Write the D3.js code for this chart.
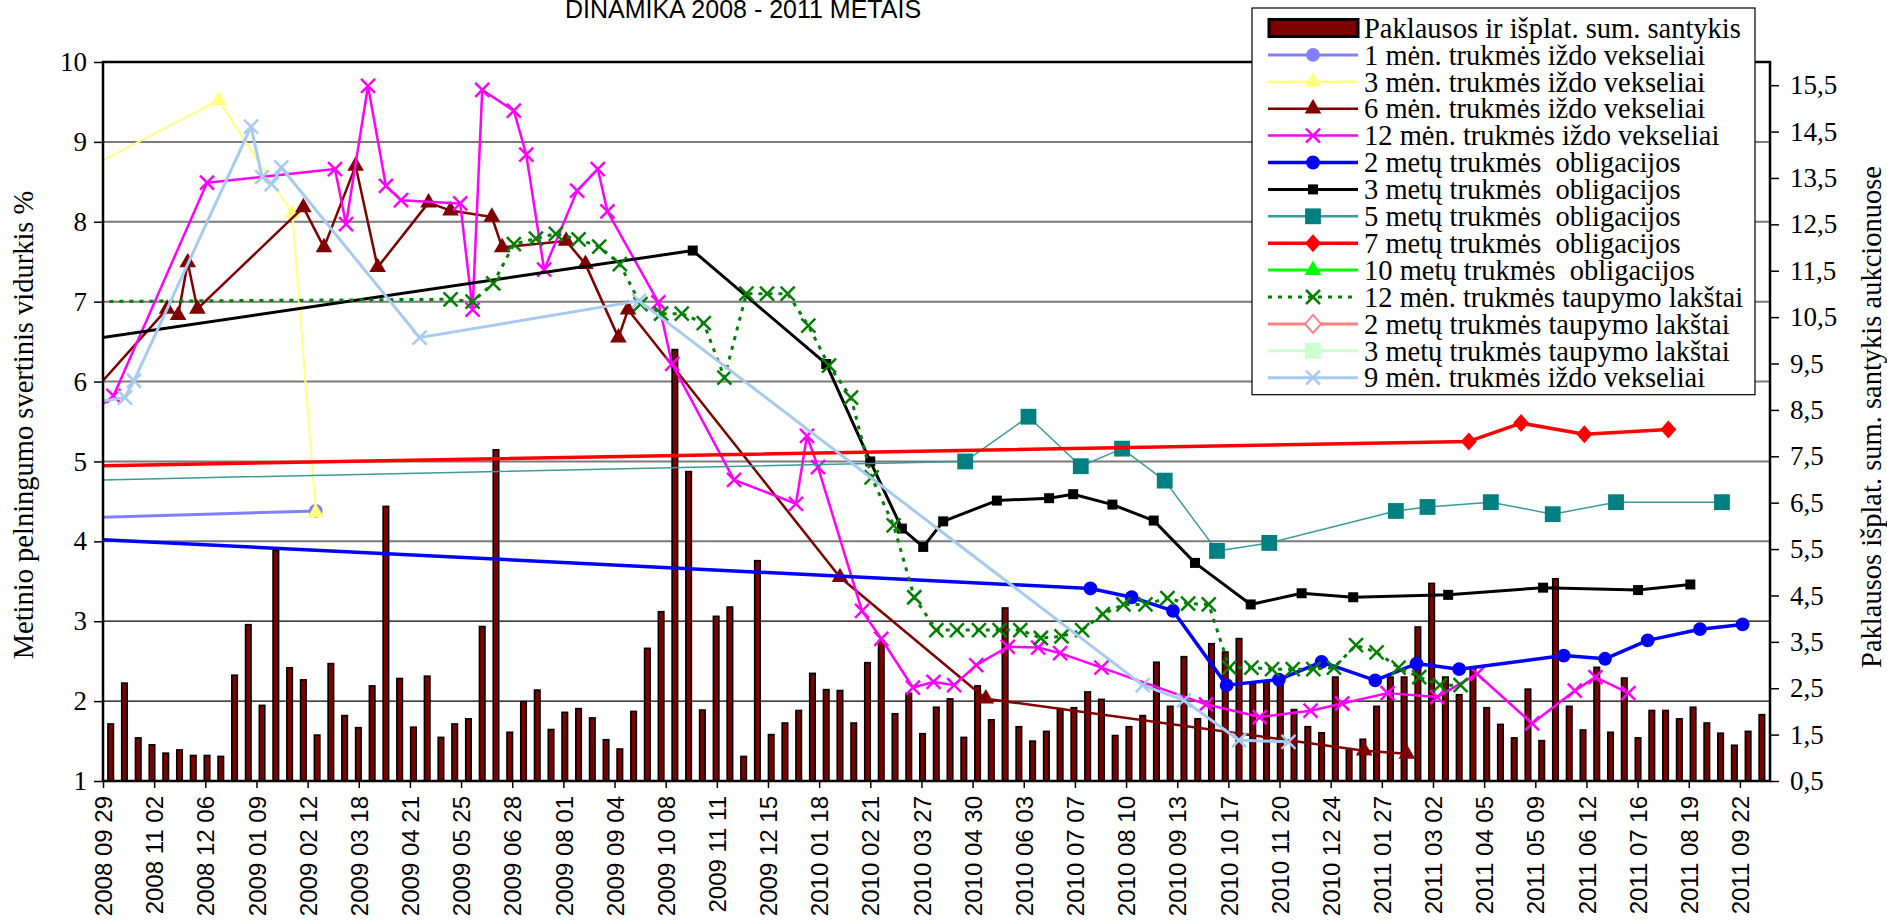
<!DOCTYPE html>
<html>
<head>
<meta charset="utf-8">
<script src="https://cdn.jsdelivr.net/npm/d3@7"></script>
<style>
  body { margin: 0; background: #fff; }
  svg { display: block; }
  text { white-space: pre; }
</style>
</head>
<body>
<svg id="chart" width="1887" height="923"></svg>
<script>
// Paklausos ir išplatintos sumos santykis, one bar per auction (right axis)
const ratio = [
  1.73, 2.61, 1.43, 1.28, 1.10, 1.17, 1.05, 1.05, 1.03, 2.78,
  3.87, 2.13, 5.47, 2.94, 2.68, 1.49, 3.03, 1.91, 1.65, 2.55,
  6.42, 2.71, 1.66, 2.76, 1.44, 1.73, 1.84, 3.83, 7.64, 1.55,
  2.21, 2.46, 1.61, 1.98, 2.06, 1.86, 1.39, 1.19, 2.00, 3.36,
  4.15, 9.80, 7.17, 2.03, 4.05, 4.25, 1.03, 5.25, 1.50, 1.75,
  2.02, 2.82, 2.47, 2.45, 1.75, 3.05, 3.53, 1.95, 2.39, 1.52,
  2.09, 2.27, 1.44, 2.55, 1.82, 4.23, 1.67, 1.36, 1.57, 2.06,
  2.08, 2.42, 2.26, 1.48, 1.67, 1.91, 3.06, 2.11, 3.18, 1.84,
  3.46, 3.28, 3.57, 2.60, 2.63, 2.60, 2.04, 1.67, 1.54, 2.74,
  1.19, 1.40, 2.11, 2.74, 2.74, 3.82, 4.76, 2.74, 2.36, 2.95,
  2.08, 1.72, 1.43, 2.48, 1.37, 4.86, 2.11, 1.60, 2.95, 1.55,
  2.72, 1.43, 2.02, 2.02, 1.84, 2.09, 1.75, 1.53, 1.27, 1.57,
  1.93
];

// yield series: [auction slot, weighted average yield %]; slots < 0 lie before the axis start
const bill1m  = [[-3, 4.29], [14.9, 4.38]];
const bill3m  = [[-3, 8.55], [7.85, 9.52], [13.2, 8.10], [14.9, 4.36]];
const bill6m  = [[-3, 5.54], [4.1, 6.91], [4.9, 6.83], [5.6, 7.49], [6.3, 6.91], [14.0, 8.18],
  [15.5, 7.68], [17.8, 8.70], [19.4, 7.43], [23.1, 8.24], [24.7, 8.14], [27.7, 8.06],
  [28.45, 7.68], [33.1, 7.76], [34.5, 7.47], [36.9, 6.55], [37.6, 6.90], [53.0, 3.55],
  [63.6, 2.03], [91.1, 1.38], [94.2, 1.34]];
const bill12m = [[-1.5, 5.6], [0.2, 5.82], [7, 8.49], [16.3, 8.66], [17.1, 7.97], [18.7, 9.70],
  [20, 8.45], [21.1, 8.27], [25.4, 8.23], [26.3, 6.9], [27, 9.65], [29.3, 9.39], [30.2, 8.84],
  [31.5, 7.40], [33.9, 8.39], [35.4, 8.66], [36.1, 8.13], [39.8, 6.99], [40.8, 6.22],
  [45.3, 4.77], [49.8, 4.47], [50.6, 5.32], [51.4, 4.93], [54.6, 3.13], [56, 2.78],
  [58.3, 2.17], [59.8, 2.24], [61.3, 2.20], [62.9, 2.45], [65.2, 2.68], [67.4, 2.67],
  [69, 2.60], [72, 2.42], [79.6, 1.96], [83.5, 1.80], [87.2, 1.88], [89.5, 1.97],
  [92.8, 2.10], [96.4, 2.05], [99.3, 2.34], [103.3, 1.72], [106.4, 2.13], [107.9, 2.30],
  [110.3, 2.10]];
const bond2y  = [[-3, 4.04], [71.2, 3.41], [74.2, 3.30], [77.2, 3.13], [81.1, 2.20], [84.9, 2.27],
  [88.0, 2.49], [91.9, 2.26], [94.9, 2.47], [98.0, 2.40], [105.6, 2.57], [108.6, 2.53],
  [111.7, 2.76], [115.5, 2.90], [118.6, 2.96]];
const bond3y  = [[-3, 6.49], [42.3, 7.64], [52.0, 6.22], [55.2, 5.00], [57.5, 4.16], [59.05, 3.93],
  [60.5, 4.25], [64.4, 4.51], [68.2, 4.54], [69.95, 4.59], [72.8, 4.46], [75.8, 4.26],
  [78.8, 3.73], [82.85, 3.21], [86.55, 3.35], [90.3, 3.30], [97.2, 3.33], [104.1, 3.42],
  [111.0, 3.39], [114.8, 3.46]];
const bond5y  = [[-3, 4.76], [62.1, 5.00], [66.7, 5.56], [70.5, 4.94], [73.5, 5.16], [76.6, 4.76],
  [80.4, 3.88], [84.2, 3.98], [93.4, 4.38], [95.7, 4.43], [100.3, 4.49], [104.8, 4.34],
  [109.4, 4.49], [117.1, 4.49]];
const bond7y  = [[-3, 4.94], [98.7, 5.25], [102.5, 5.48], [107.1, 5.34], [113.2, 5.40]];
const bond10y = [];
const sav12m  = [[-3, 7.0], [24.7, 7.03], [26.3, 7.0], [27.8, 7.23], [29.3, 7.72], [30.9, 7.79],
  [32.35, 7.85], [34.0, 7.78], [35.5, 7.69], [37.0, 7.47], [38.5, 6.97], [40.0, 6.85],
  [41.5, 6.85], [43.1, 6.73], [44.6, 6.05], [46.2, 7.10], [47.7, 7.10], [49.2, 7.10],
  [50.7, 6.70], [52.2, 6.20], [53.8, 5.80], [55.3, 4.80], [56.9, 4.20], [58.4, 3.30],
  [60.0, 2.89], [61.5, 2.89], [63.1, 2.89], [64.6, 2.89], [66.1, 2.89], [67.6, 2.79],
  [69.1, 2.81], [70.6, 2.89], [72.1, 3.09], [73.6, 3.21], [75.2, 3.21], [76.8, 3.29],
  [78.3, 3.22], [79.8, 3.21], [81.3, 2.42], [82.9, 2.42], [84.4, 2.40], [85.9, 2.40],
  [87.4, 2.40], [88.9, 2.42], [90.5, 2.70], [92.0, 2.61], [93.6, 2.42], [95.1, 2.30],
  [96.6, 2.20], [98.1, 2.20]];
const sav2y   = [];
const sav3y   = [];
const bill9m  = [[-2, 5.72], [1.04, 5.80], [1.69, 6.01], [10.2, 9.19], [11.0, 8.56], [11.7, 8.47],
  [12.4, 8.68], [22.45, 6.55], [38.4, 7.01], [75.0, 2.20], [78.0, 2.01], [82.0, 1.51],
  [85.6, 1.49]];

const tickLabels = [
  '2008 09 29', '2008 11 02', '2008 12 06', '2009 01 09', '2009 02 12', '2009 03 18',
  '2009 04 21', '2009 05 25', '2009 06 28', '2009 08 01', '2009 09 04', '2009 10 08',
  '2009 11 11', '2009 12 15', '2010 01 18', '2010 02 21', '2010 03 27', '2010 04 30',
  '2010 06 03', '2010 07 07', '2010 08 10', '2010 09 13', '2010 10 17', '2010 11 20',
  '2010 12 24', '2011 01 27', '2011 03 02', '2011 04 05', '2011 05 09', '2011 06 12',
  '2011 07 16', '2011 08 19', '2011 09 22'
];
const leftTicks = [1, 2, 3, 4, 5, 6, 7, 8, 9, 10];
const rightTicks = [0.5, 1.5, 2.5, 3.5, 4.5, 5.5, 6.5, 7.5, 8.5, 9.5, 10.5, 11.5, 12.5, 13.5, 14.5, 15.5];

// series styling, legend order
const series = [
  { name: '1 mėn. trukmės iždo vekseliai', data: bill1m, color: '#8080FF', width: 3, marker: 'circle' },
  { name: '3 mėn. trukmės iždo vekseliai', data: bill3m, color: '#FFFF80', width: 2, marker: 'triangle' },
  { name: '6 mėn. trukmės iždo vekseliai', data: bill6m, color: '#800000', width: 2.5, marker: 'triangle' },
  { name: '12 mėn. trukmės iždo vekseliai', data: bill12m, color: '#FF00FF', width: 2.5, marker: 'x' },
  { name: '2 metų trukmės  obligacijos', data: bond2y, color: '#0000FF', width: 3.5, marker: 'circle' },
  { name: '3 metų trukmės  obligacijos', data: bond3y, color: '#000000', width: 3, marker: 'smallsquare' },
  { name: '5 metų trukmės  obligacijos', data: bond5y, color: '#008080', lineColor: '#3a9a9a', width: 1.5, marker: 'square' },
  { name: '7 metų trukmės  obligacijos', data: bond7y, color: '#FF0000', width: 3.5, marker: 'diamond' },
  { name: '10 metų trukmės  obligacijos', data: bond10y, color: '#00FF00', width: 3, marker: 'triangle' },
  { name: '12 mėn. trukmės taupymo lakštai', data: sav12m, color: '#008000', width: 3, marker: 'x', dash: '4,6' },
  { name: '2 metų trukmės taupymo lakštai', data: sav2y, color: '#FF8080', width: 3, marker: 'hollowdiamond' },
  { name: '3 metų trukmės taupymo lakštai', data: sav3y, color: '#CCFFCC', width: 3, marker: 'square' },
  { name: '9 mėn. trukmės iždo vekseliai', data: bill9m, color: '#A6CAF0', width: 3, marker: 'x' }
];

const plot = { left: 103, right: 1770, top: 62, bottom: 781 };
const serif = '"Liberation Serif", "Times New Roman", serif';
const sans = '"Liberation Sans", Arial, sans-serif';

const svg = d3.select('#chart');
const parseLabel = d3.timeParse('%Y %m %d');
const tickDates = tickLabels.map(parseLabel);

const xSlot = d3.scaleLinear().domain([-0.56, 120.59]).range([plot.left, plot.right]);
const xTime = d3.scaleTime().domain([tickDates[0], new Date(2011, 9, 12)]).range([plot.left, plot.right]);
const yL = d3.scaleLinear().domain([1, 10]).range([plot.bottom, plot.top]);
const yR = d3.scaleLinear().domain([0.5, 16]).range([plot.bottom, plot.top]);

svg.append('defs').append('clipPath').attr('id', 'plotClip')
  .append('rect').attr('x', plot.left).attr('y', plot.top)
  .attr('width', plot.right - plot.left).attr('height', plot.bottom - plot.top);

// gridlines
svg.append('g').selectAll('line').data(leftTicks.filter(v => v > 1 && v < 10)).join('line')
  .attr('x1', plot.left).attr('x2', plot.right)
  .attr('y1', d => yL(d)).attr('y2', d => yL(d))
  .attr('stroke', d => d >= 4 ? '#7a7a7a' : '#000')
  .attr('stroke-width', d => d >= 4 ? 2 : 1.2);

// bars
svg.append('g').selectAll('rect').data(ratio).join('rect')
  .attr('x', (d, i) => xSlot(i) - 2.75).attr('width', 5.5)
  .attr('y', d => yR(d)).attr('height', d => yR(0.5) - yR(d))
  .attr('fill', '#800000').attr('stroke', '#000').attr('stroke-width', 1.6);

function markerPath(type) {
  switch (type) {
    case 'circle': return d3.symbol(d3.symbolCircle, 150)();
    case 'triangle': return d3.symbol(d3.symbolTriangle, 120)();
    case 'smallsquare': return d3.symbol(d3.symbolSquare, 100)();
    case 'square': return d3.symbol(d3.symbolSquare, 250)();
    case 'diamond':
    case 'hollowdiamond': return 'M0,-9L8,0L0,9L-8,0Z';
    case 'x': return 'M-7,-7L7,7M-7,7L7,-7';
  }
}

function drawMarker(g, s) {
  const p = g.append('path').attr('d', markerPath(s.marker));
  if (s.marker === 'x') {
    p.attr('fill', 'none').attr('stroke', s.color).attr('stroke-width', 2.5);
  } else if (s.marker === 'hollowdiamond') {
    p.attr('fill', '#fff').attr('stroke', s.color).attr('stroke-width', 2);
  } else {
    p.attr('fill', s.color);
  }
  return p;
}

const line = d3.line().x(d => xSlot(d[0])).y(d => yL(d[1]));
const lines = svg.append('g').attr('clip-path', 'url(#plotClip)');
series.forEach(s => {
  if (!s.data.length) return;
  lines.append('path').datum(s.data).attr('d', line)
    .attr('fill', 'none').attr('stroke', s.lineColor || s.color)
    .attr('stroke-width', s.width).attr('stroke-dasharray', s.dash || null)
    .attr('stroke-linejoin', 'round');
  s.data.forEach(d => {
    const g = lines.append('g').attr('transform', `translate(${xSlot(d[0])},${yL(d[1])})`);
    drawMarker(g, s);
  });
});

// frame
svg.append('rect').attr('x', plot.left).attr('y', plot.top)
  .attr('width', plot.right - plot.left).attr('height', plot.bottom - plot.top)
  .attr('fill', 'none').attr('stroke', '#000').attr('stroke-width', 2.5);

// axes
const leftAxis = svg.append('g').attr('transform', `translate(${plot.left},0)`)
  .call(d3.axisLeft(yL).tickValues(leftTicks).tickFormat(d3.format('d')).tickSize(9).tickPadding(7));
const rightAxis = svg.append('g').attr('transform', `translate(${plot.right},0)`)
  .call(d3.axisRight(yR).tickValues(rightTicks).tickFormat(d => d.toFixed(1).replace('.', ',')).tickSize(9).tickPadding(11));
[leftAxis, rightAxis].forEach(a => {
  a.select('.domain').remove();
  a.selectAll('line').attr('stroke', '#000').attr('stroke-width', 1.5);
  a.selectAll('text').attr('font-family', serif).attr('font-size', 27).attr('fill', '#000');
});

const xAxis = svg.append('g').attr('transform', `translate(0,${plot.bottom})`)
  .call(d3.axisBottom(xTime).tickValues(tickDates).tickFormat(d3.timeFormat('%Y %m %d')).tickSize(7));
xAxis.select('.domain').remove();
xAxis.selectAll('line').attr('stroke', '#000').attr('stroke-width', 1.5);
xAxis.selectAll('text')
  .attr('font-family', sans).attr('font-size', 24).attr('fill', '#000')
  .attr('transform', 'rotate(-90)').attr('x', -15).attr('y', 0).attr('dy', '0.36em')
  .style('text-anchor', 'end');

// titles
svg.append('text').attr('x', 743).attr('y', 18).attr('text-anchor', 'middle')
  .attr('font-family', sans).attr('font-size', 25).text('DINAMIKA 2008 - 2011 METAIS');
svg.append('text').attr('transform', 'translate(33,425) rotate(-90)').attr('text-anchor', 'middle')
  .attr('font-family', serif).attr('font-size', 28.5).text('Metinio pelningumo svertinis vidurkis %');
svg.append('text').attr('transform', 'translate(1881,417) rotate(-90)').attr('text-anchor', 'middle')
  .attr('font-family', serif).attr('font-size', 28.5).text('Paklausos išplat. sum. santykis aukcionuose');

// legend
const leg = { x: 1252, y: 8, w: 503, rowH: 26.9, first: 28 };
const legend = svg.append('g');
legend.append('rect').attr('x', leg.x).attr('y', leg.y).attr('width', leg.w)
  .attr('height', leg.first - leg.y + leg.rowH * series.length + 17)
  .attr('fill', '#fff').attr('stroke', '#000').attr('stroke-width', 1.2);
const rowBar = legend.append('g').attr('transform', `translate(0,${leg.first})`);
rowBar.append('rect').attr('x', 1269).attr('y', -8.5).attr('width', 89).attr('height', 17)
  .attr('fill', '#800000').attr('stroke', '#000').attr('stroke-width', 3);
rowBar.append('text').attr('x', 1364).attr('dy', '0.34em')
  .attr('font-family', serif).attr('font-size', 28.5).text('Paklausos ir išplat. sum. santykis');
series.forEach((s, i) => {
  const row = legend.append('g').attr('transform', `translate(0,${leg.first + leg.rowH * (i + 1)})`);
  row.append('line').attr('x1', 1268).attr('x2', 1358)
    .attr('stroke', s.lineColor || s.color).attr('stroke-width', Math.max(s.width, 2.5))
    .attr('stroke-dasharray', s.dash || null);
  drawMarker(row.append('g').attr('transform', 'translate(1313,0)'), s);
  row.append('text').attr('x', 1364).attr('dy', '0.34em')
    .attr('font-family', serif).attr('font-size', 28.5).text(s.name);
});
</script>
</body>
</html>
